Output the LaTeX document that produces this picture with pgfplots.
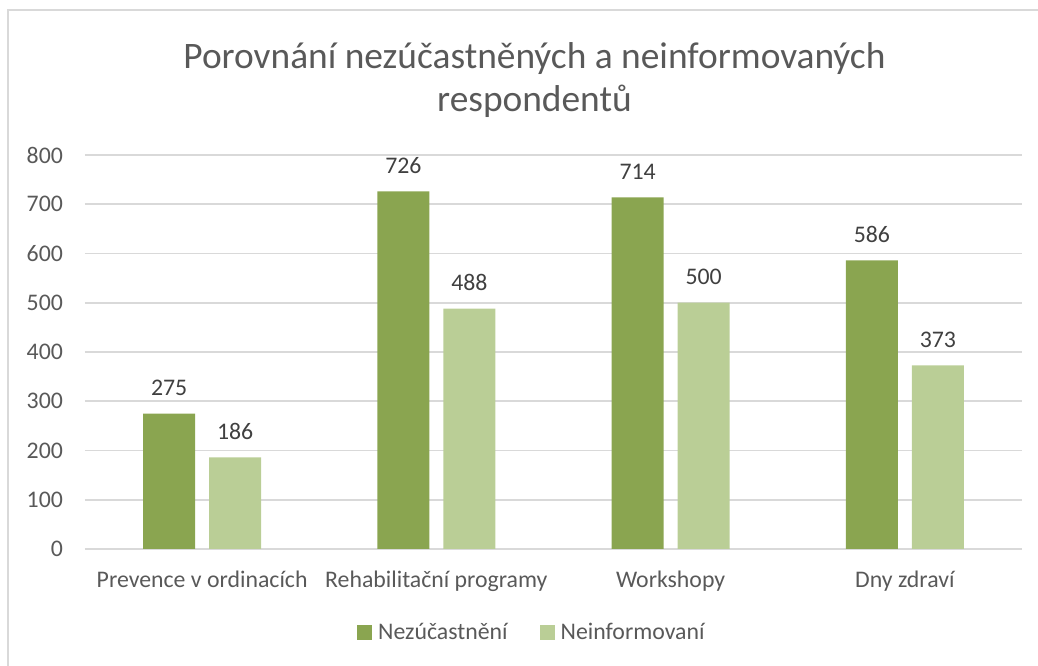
\documentclass[border=0pt]{standalone}
\usepackage{pgfplots}
\pgfplotsset{compat=1.18}
\usepackage{fontspec}
\setmainfont{Carlito}
\definecolor{darkolive}{HTML}{8AA550}
\definecolor{lightolive}{HTML}{BACE96}
\definecolor{txt}{HTML}{595959}
\definecolor{gridc}{HTML}{D9D9D9}
\begin{document}
\begin{tikzpicture}
\begin{axis}[
    scale only axis, clip=false,
    width=468.5pt, height=197pt,
    ybar=7pt, bar width=26pt,
    xmin=-0.5, xmax=3.5,
    ymin=0, ymax=800, ytick distance=100,
    xtick=data,
    xticklabels={Prevence v ordinacích, Rehabilitační programy, Workshopy, Dny zdraví},
    major tick length=0pt,
    ymajorgrids=true,
    grid style={gridc, line width=0.8pt},
    separate axis lines,
    x axis line style={gridc, line width=0.8pt},
    y axis line style={draw=none},
    axis x line*=bottom,
    axis y line*=left,
    tick label style={font=\fontsize{11.9}{14}\selectfont, text=txt},
    /pgf/number format/assume math mode=true,
    yticklabel style={xshift=-7.5pt},
    xticklabel style={yshift=-7.5pt},
    nodes near coords,
    nodes near coords style={font=\fontsize{11.9}{14}\selectfont, text=black!75, yshift=5.5pt},
    legend style={font=\fontsize{11.9}{14}\selectfont, text=txt, draw=none, fill=none,
                  legend columns=2, column sep=1pt,
                  /tikz/every even column/.append style={column sep=14pt},
                  at={(rel axis cs:0.478,-0.213)}, anchor=center},
    legend image code/.code={\fill[#1] (0pt,-3.75pt) rectangle (7.5pt,3.75pt);},
  ]
\addplot[draw=none, fill=darkolive] coordinates {(0,275) (1,726) (2,714) (3,586)};
\addplot[draw=none, fill=lightolive] coordinates {(0,186) (1,488) (2,500) (3,373)};
\legend{Nezúčastnění, Neinformovaní}
\node[font=\fontsize{18.7}{21.5}\selectfont, text=txt, align=center] at (rel axis cs:0.4797,1.19)
  {Porovnání nezúčastněných a neinformovaných\\respondentů};
\coordinate (imgbl) at (rel axis cs:-0.0907,-0.297);
\coordinate (imgtr) at (rel axis cs:1.0171,1.3934);
\coordinate (frtl) at (rel axis cs:-0.0822,1.368);
\coordinate (frbl) at (rel axis cs:-0.0822,-0.297);
\coordinate (frtr) at (rel axis cs:1.0171,1.368);
\end{axis}
\draw[gridc, line width=0.8pt] (frbl) -- (frtl) -- (frtr);
\pgfresetboundingbox
\path[use as bounding box] (imgbl) rectangle (imgtr);
\end{tikzpicture}
\end{document}
